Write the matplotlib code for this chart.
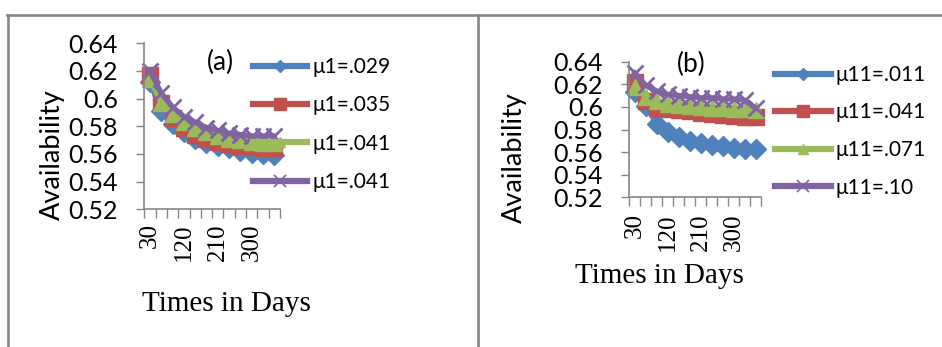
import matplotlib
matplotlib.use('Agg')
import matplotlib.pyplot as plt
import numpy as np
from matplotlib.lines import Line2D

# ---------------- data ----------------
days = [30, 60, 90, 120, 150, 180, 210, 240, 270, 300, 330, 360]
x_tick_labels = ['30', '120', '210', '300']
y_ticks = [0.52, 0.54, 0.56, 0.58, 0.60, 0.62, 0.64]
y_tick_labels = ['0.52', '0.54', '0.56', '0.58', '0.6', '0.62', '0.64']

a_labels = ['\u03bc1=.029', '\u03bc1=.035', '\u03bc1=.041', '\u03bc1=.041']
a_s1 = [0.612, 0.591, 0.582, 0.576, 0.571, 0.568, 0.566, 0.564, 0.562, 0.561, 0.560, 0.559]
a_s2 = [0.617, 0.597, 0.586, 0.579, 0.574, 0.571, 0.569, 0.567, 0.566, 0.565, 0.564, 0.564]
a_s3 = [0.614, 0.597, 0.589, 0.583, 0.579, 0.576, 0.573, 0.571, 0.570, 0.569, 0.568, 0.568]
a_s4 = [0.620, 0.604, 0.594, 0.587, 0.583, 0.579, 0.577, 0.575, 0.574, 0.573, 0.573, 0.573]

b_labels = ['\u03bc11=.011', '\u03bc11=.041', '\u03bc11=.071', '\u03bc11=.10']
b_s1 = [0.613, 0.601, 0.585, 0.578, 0.573, 0.570, 0.568, 0.566, 0.565, 0.564, 0.563, 0.563]
b_s2 = [0.622, 0.605, 0.599, 0.598, 0.597, 0.596, 0.595, 0.594, 0.593, 0.592, 0.591, 0.591]
b_s3 = [0.618, 0.609, 0.605, 0.603, 0.602, 0.601, 0.600, 0.599, 0.599, 0.598, 0.598, 0.597]
b_s4 = [0.630, 0.619, 0.614, 0.611, 0.610, 0.609, 0.608, 0.608, 0.607, 0.607, 0.606, 0.599]

colors = ['#4F81BD', '#C0504D', '#9BBB59', '#8064A2']
markers = ['D', 's', '^', 'x']
msizes = [10, 11, 12, 11]
leg_msizes = [6, 9, 7, 8]

SANS = ['Lato', 'DejaVu Sans']
SERIF = ['Liberation Serif', 'DejaVu Serif']
GRAY = '#868686'

W, H = 942, 347
fig = plt.figure(figsize=(W / 100, H / 100), dpi=100)


def fx(x):
    return x / W


def fy(y):
    return 1 - y / H


def panel(left, right, top, bottom, series, labels, ptxt, pxy, ylab_xy, xlab_xy,
          leg_x, leg_top, leg_len, leg_ls, xpad):
    ax = fig.add_axes([fx(left), fy(bottom), fx(right) - fx(left), fy(top) - fy(bottom)])
    xs = np.arange(len(days))
    for vals, c, m, ms in zip(series, colors, markers, msizes):
        ax.plot(xs, vals, color=c, lw=3.8, marker=m, ms=ms, mfc=c, mec=c,
                mew=2 if m == 'x' else 1, clip_on=False)
    ax.set_xlim(-0.5, len(days) - 0.5)
    ax.set_ylim(0.52, 0.64)
    ax.set_yticks(y_ticks)
    ax.set_yticklabels(y_tick_labels, fontfamily=SANS, fontsize=18)
    ax.set_xticks([0, 3, 6, 9])
    ax.set_xticklabels(x_tick_labels, rotation=90, fontfamily=SERIF, fontsize=18)
    ax.set_xticks(np.arange(-0.5, len(days), 1), minor=True)
    ax.tick_params(axis='x', which='major', length=0, pad=xpad)
    ax.tick_params(axis='x', which='minor', length=6.5, width=1, color=GRAY)
    ax.tick_params(axis='y', length=5.8, width=1, color=GRAY, pad=13)
    for s in ['top', 'right']:
        ax.spines[s].set_visible(False)
    for s in ['left', 'bottom']:
        ax.spines[s].set_color(GRAY)
        ax.spines[s].set_linewidth(1.2)
    ax.set_facecolor('none')

    fig.text(fx(pxy[0]), fy(pxy[1]), ptxt, fontfamily=SANS, fontsize=19,
             ha='center', va='center')
    fig.text(fx(ylab_xy[0]), fy(ylab_xy[1]), 'Availability', fontfamily=SANS,
             fontsize=19.5, rotation=90, ha='center', va='center')
    fig.text(fx(xlab_xy[0]), fy(xlab_xy[1]), 'Times in Days', fontfamily=SERIF,
             fontsize=21, ha='center', va='center')

    handles = [Line2D([], [], color=c, lw=4.5, marker=m, ms=ms, mfc=c, mec=c,
                      mew=1.2 if m == 'x' else 1)
               for c, m, ms in zip(colors, markers, leg_msizes)]
    fs = 15
    fig.legend(handles, labels, loc='upper left',
               bbox_to_anchor=(fx(leg_x), fy(leg_top)), frameon=False,
               borderpad=0, borderaxespad=0, handlelength=leg_len / (fs * 100 / 72),
               handletextpad=0.25, labelspacing=leg_ls, numpoints=1,
               prop={'family': SANS, 'size': fs})
    return ax


panel(144.3, 280, 43.3, 209.3, [a_s1, a_s2, a_s3, a_s4], a_labels, '(a)', (220, 62),
      (52, 155), (226, 304), 253, 57, 54, 0.88, 10)
panel(629.3, 761, 61.7, 197.3, [b_s1, b_s2, b_s3, b_s4], b_labels, '(b)', (691, 64),
      (514, 158), (659.5, 276), 775, 65, 55.7, 0.84, 11.5)

# table-like border lines
for (x0, y0, x1, y1) in [(7, 15, 942, 15), (8.3, 15, 8.3, 347), (477.7, 15, 477.7, 347)]:
    fig.add_artist(Line2D([fx(x0), fx(x1)], [fy(y0), fy(y1)], color=GRAY, lw=1.9,
                          transform=fig.transFigure))

fig.savefig('out.png', dpi=100)
